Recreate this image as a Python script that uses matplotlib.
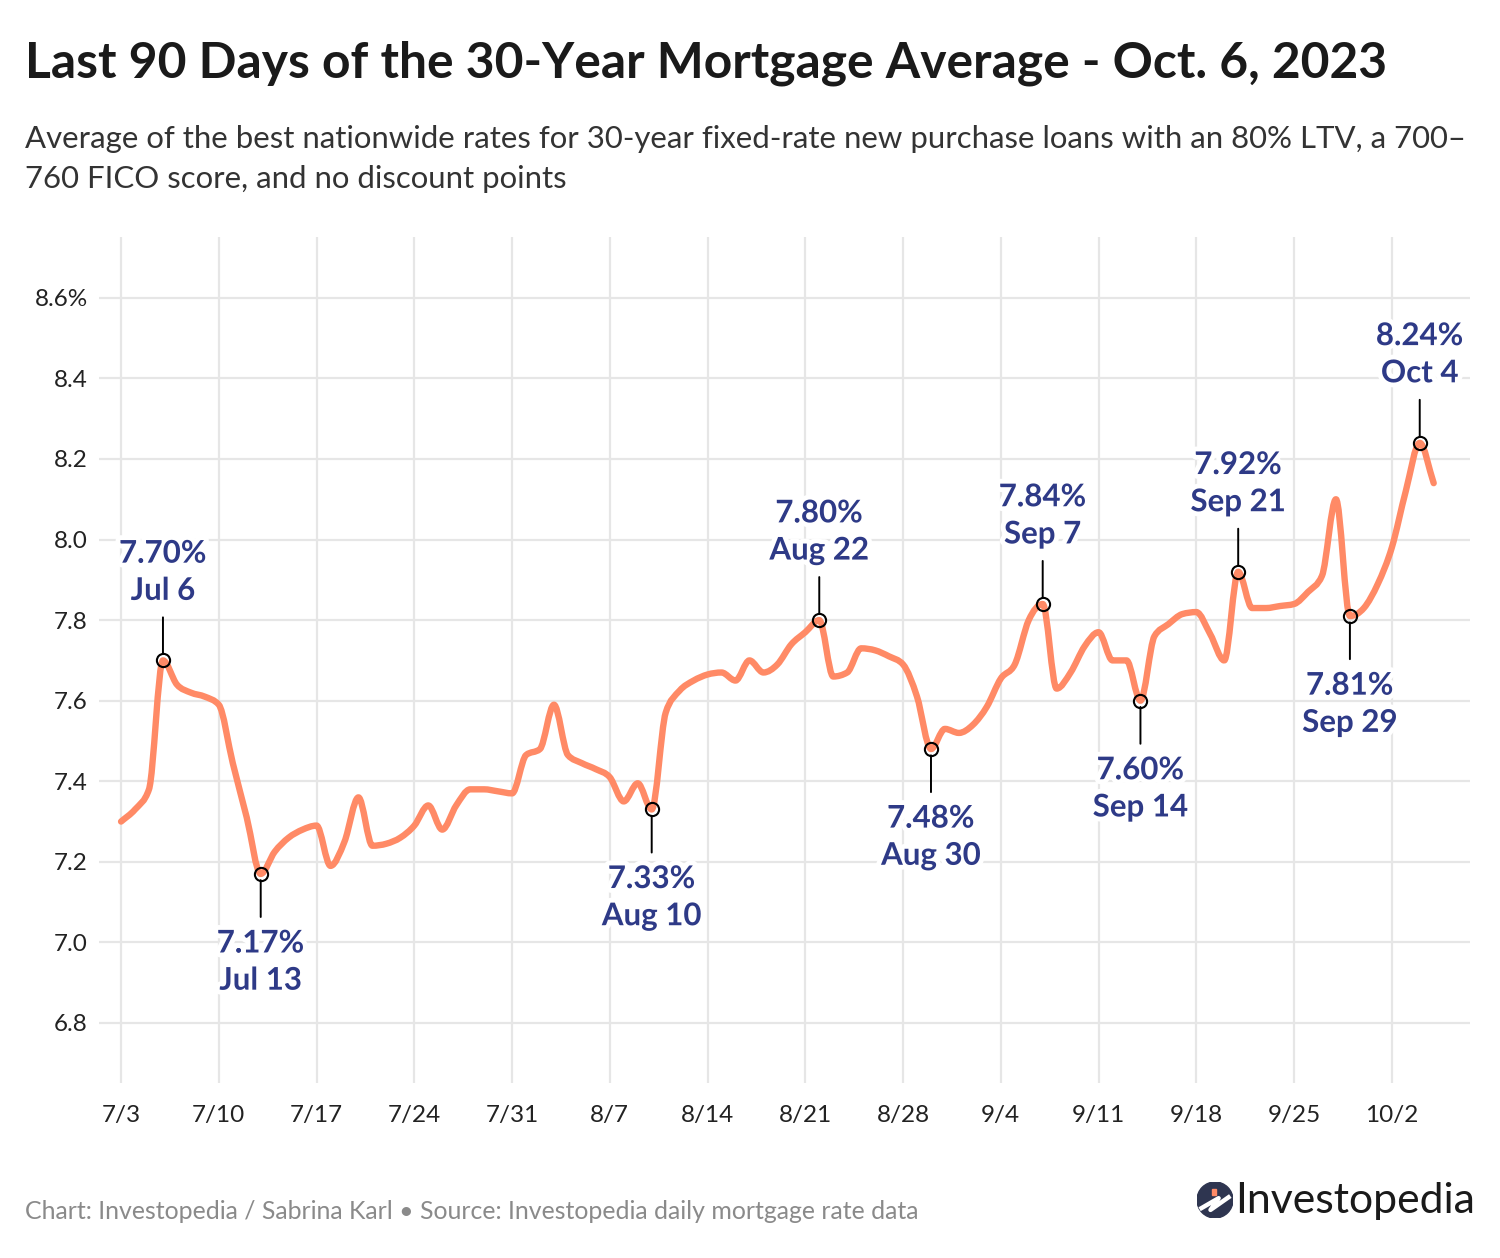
import numpy as np
import pandas as pd
import matplotlib
matplotlib.use("Agg")
import matplotlib.pyplot as plt
import matplotlib.dates as mdates
import matplotlib.patheffects as pe
from matplotlib.path import Path
from matplotlib.patches import PathPatch, Circle

plt.rcParams['font.family'] = ['Lato', 'DejaVu Sans']

# daily 30-year rate, 7/3/2023 .. 10/5/2023
start_date = "2023-07-03"
rates = [7.30, 7.33, 7.38, 7.70, 7.64, 7.62, 7.61, 7.59, 7.445, 7.31,
         7.17, 7.225, 7.26, 7.28, 7.29, 7.19, 7.25, 7.36, 7.24, 7.245,
         7.26, 7.29, 7.34, 7.28, 7.34, 7.38, 7.38, 7.375, 7.37, 7.465,
         7.48, 7.59, 7.465, 7.445, 7.43, 7.41, 7.35, 7.395, 7.33, 7.57,
         7.625, 7.65, 7.665, 7.67, 7.65, 7.70, 7.67, 7.69, 7.74, 7.77,
         7.80, 7.66, 7.67, 7.73, 7.725, 7.71, 7.69, 7.61, 7.48, 7.53,
         7.52, 7.54, 7.585, 7.655, 7.69, 7.80, 7.84, 7.63, 7.67, 7.735,
         7.77, 7.70, 7.70, 7.60, 7.76, 7.79, 7.815, 7.82, 7.765, 7.70,
         7.92, 7.83, 7.83, 7.835, 7.84, 7.87, 7.91, 8.10, 7.81, 7.83,
         7.89, 7.98, 8.12, 8.24, 8.14]

# highlighted points
ann_dates = ["2023-07-06", "2023-07-13", "2023-08-10", "2023-08-22", "2023-08-30",
             "2023-09-07", "2023-09-14", "2023-09-21", "2023-09-29", "2023-10-04"]
ann_names = ["Jul 6", "Jul 13", "Aug 10", "Aug 22", "Aug 30",
             "Sep 7", "Sep 14", "Sep 21", "Sep 29", "Oct 4"]
ann_values = [7.70, 7.17, 7.33, 7.80, 7.48, 7.84, 7.60, 7.92, 7.81, 8.24]
ann_above = [True, False, False, True, False, True, False, True, False, True]

tick_dates = ["2023-07-03", "2023-07-10", "2023-07-17", "2023-07-24", "2023-07-31",
              "2023-08-07", "2023-08-14", "2023-08-21", "2023-08-28", "2023-09-04",
              "2023-09-11", "2023-09-18", "2023-09-25", "2023-10-02"]
tick_labels = ["7/3", "7/10", "7/17", "7/24", "7/31", "8/7", "8/14", "8/21",
               "8/28", "9/4", "9/11", "9/18", "9/25", "10/2"]
y_ticks = [6.8, 7.0, 7.2, 7.4, 7.6, 7.8, 8.0, 8.2, 8.4, 8.6]
y_labels = ["6.8", "7.0", "7.2", "7.4", "7.6", "7.8", "8.0", "8.2", "8.4", "8.6%"]

LINE = "#FF8A66"
NAVY = "#2E3A87"
GRID = "#E6E6E6"

dates = pd.date_range(start_date, periods=len(rates), freq="D")
x = mdates.date2num(dates.to_pydatetime())
y = np.array(rates)


def monotone_path(x, y):
    # cubic bezier path with monotone tangents (like d3 curveMonotoneX)
    h = np.diff(x)
    m = np.diff(y) / h
    t = np.zeros(len(x))
    t[0], t[-1] = m[0], m[-1]
    for i in range(1, len(x) - 1):
        s0, s1 = m[i - 1], m[i]
        if s0 * s1 <= 0:
            t[i] = 0
        else:
            p = (s0 * h[i] + s1 * h[i - 1]) / (h[i - 1] + h[i])
            t[i] = np.sign(s0) * min(abs(s0), abs(s1), 0.5 * abs(p)) * 2
    verts = [(x[0], y[0])]
    codes = [Path.MOVETO]
    for i in range(len(x) - 1):
        d = h[i] / 3
        verts += [(x[i] + d, y[i] + t[i] * d), (x[i + 1] - d, y[i + 1] - t[i + 1] * d),
                  (x[i + 1], y[i + 1])]
        codes += [Path.CURVE4] * 3
    return Path(verts, codes)


fig = plt.figure(figsize=(15, 12.58), dpi=100)
ax = fig.add_axes([0.066, 0.1391, 0.914, 0.6725])

ax.add_patch(PathPatch(monotone_path(x, y), facecolor="none", edgecolor=LINE,
                       lw=4.6, capstyle="round", joinstyle="round", zorder=3))

ax.set_xlim(x[0] - 1.58, x[0] + 96.6)
ax.set_ylim(6.651, 8.751)
ax.set_yticks(y_ticks)
ax.set_yticklabels(y_labels)
tx = mdates.date2num(pd.to_datetime(tick_dates).to_pydatetime())
ax.set_xticks(tx)
ax.set_xticklabels(tick_labels)
ax.tick_params(axis="both", length=0, labelsize=17.5, colors="#222222")
ax.tick_params(axis="y", pad=8)
ax.tick_params(axis="x", pad=16)
ax.grid(True, color=GRID, lw=1.6)
ax.set_axisbelow(True)
for s in ax.spines.values():
    s.set_visible(False)

ax_x = mdates.date2num(pd.to_datetime(ann_dates).to_pydatetime())
halo = [pe.withStroke(linewidth=7, foreground="white")]
for xd, name, v, up in zip(ax_x, ann_names, ann_values, ann_above):
    sgn = 1 if up else -1
    ax.annotate("", xy=(xd, v), xytext=(0, sgn * 31), textcoords="offset points",
                arrowprops=dict(arrowstyle="-", color="black", lw=1.4,
                                shrinkA=0, shrinkB=4.5), zorder=4)
    ax.plot([xd], [v], "o", ms=9.5, mfc="none", mec="black", mew=1.5, zorder=5)
    ax.annotate(f"{v:.2f}%\n{name}", xy=(xd, v), xytext=(0, sgn * 40),
                textcoords="offset points", ha="center",
                va="bottom" if up else "top", fontsize=22.5, fontweight="bold",
                color=NAVY, linespacing=1.4, path_effects=halo, zorder=6)

H = 1258
fig.text(25 / 1500, 1 - 77 / H, "Last 90 Days of the 30-Year Mortgage Average - Oct. 6, 2023",
         fontsize=35.8, fontweight="bold", color="#1A1A1A", va="baseline")
fig.text(25 / 1500, 1 - 148 / H,
         "Average of the best nationwide rates for 30-year fixed-rate new purchase loans with an 80% LTV, a 700\u2013",
         fontsize=22.4, color="#333333", va="baseline")
fig.text(25 / 1500, 1 - 188 / H, "760 FICO score, and no discount points",
         fontsize=22.4, color="#333333", va="baseline")
fig.text(25 / 1500, 1 - 1219 / H,
         "Chart: Investopedia / Sabrina Karl \u2022 Source: Investopedia daily mortgage rate data",
         fontsize=17.9, color="#8A8A8A", va="baseline")

# logo
fig.text(1475 / 1500, 1 - 1213 / H, "Investopedia", fontsize=30.8, color="#1A1A1A",
         ha="right", va="baseline")
logo = fig.add_axes([(1215 - 18) / 1500, 1 - (1200 + 18) / H, 36 / 1500, 36 / H])
logo.set_xlim(-1, 1)
logo.set_ylim(-1, 1)
logo.set_aspect("equal")
logo.axis("off")
logo.add_patch(Circle((0, 0), 1, color="#2E3550"))
logo.plot([-0.75, 0.2, -0.25, 0.75], [-0.45, 0.1, -0.55, 0.15], color="white", lw=3.2)
logo.add_patch(plt.Rectangle((-0.15, 0.3), 0.22, 0.3, color=LINE))

fig.savefig("out.png", dpi=100, facecolor="white")
